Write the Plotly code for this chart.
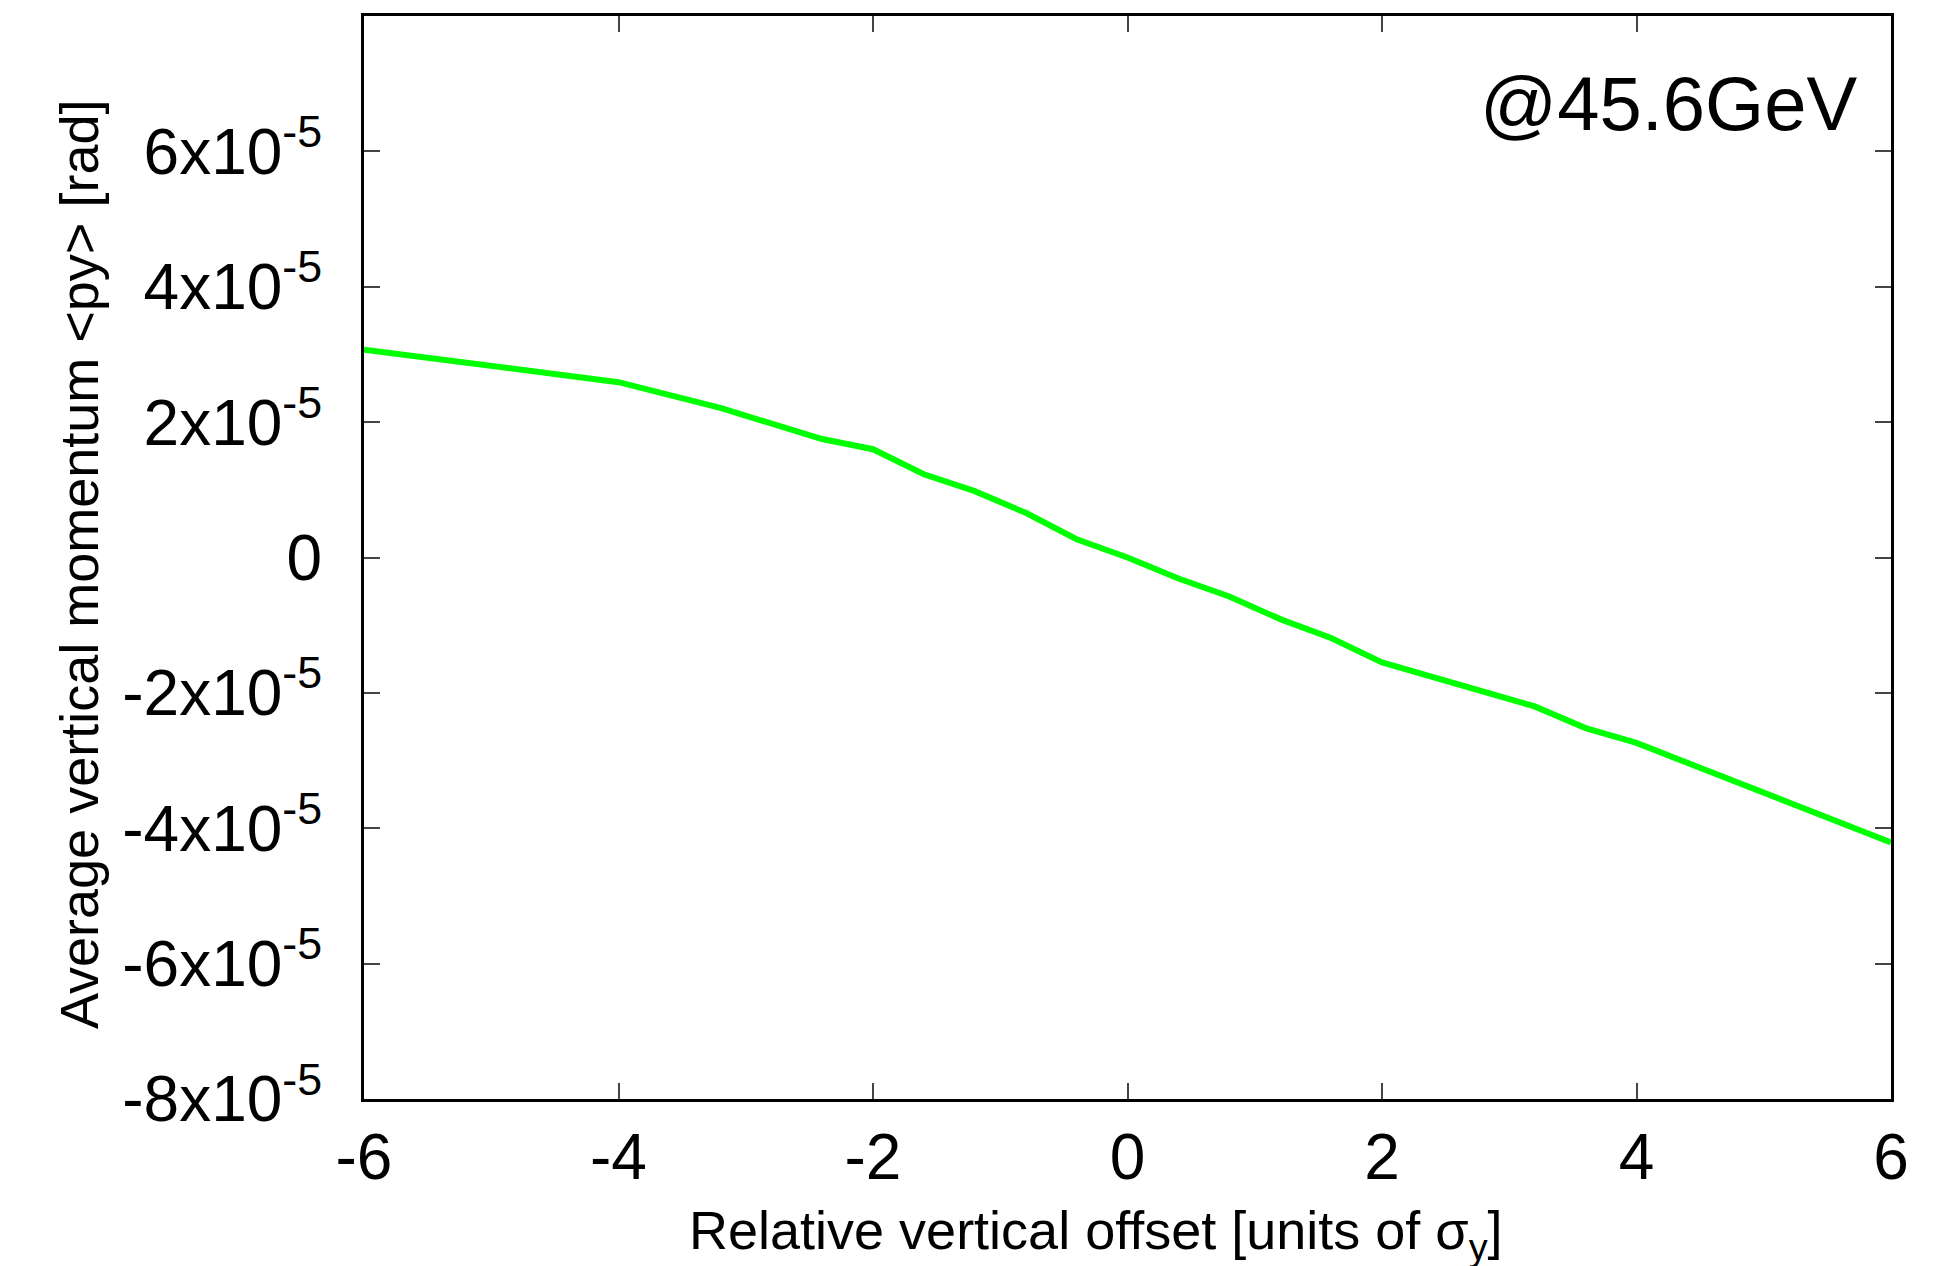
import plotly.graph_objects as go

# Data
offset_sigma = [-6, -4, -3.2, -2.4, -2, -1.6, -1.2, -0.8, -0.4, 0, 0.4, 0.8, 1.2, 1.6, 2, 2.4, 2.8, 3.2, 3.6, 4, 6]
py_e5 = [3.07, 2.59, 2.21, 1.75, 1.60, 1.23, 0.98, 0.66, 0.27, 0.0, -0.31, -0.575, -0.91, -1.19, -1.55, -1.77, -1.99, -2.20, -2.52, -2.74, -4.21]
py_rad = [v * 1e-5 for v in py_e5]

x_ticks = [-6, -4, -2, 0, 2, 4, 6]
y_tick_vals = [-8e-5, -6e-5, -4e-5, -2e-5, 0, 2e-5, 4e-5, 6e-5]
y_tick_text = ["-8x10<sup>-5</sup>", "-6x10<sup>-5</sup>", "-4x10<sup>-5</sup>", "-2x10<sup>-5</sup>",
               "0", "2x10<sup>-5</sup>", "4x10<sup>-5</sup>", "6x10<sup>-5</sup>"]

FONT = "Liberation Sans, Arial, Helvetica, sans-serif"

fig = go.Figure()
fig.add_trace(go.Scatter(x=offset_sigma, y=py_rad, mode="lines",
                         line=dict(color="#00ff00", width=6), showlegend=False))

W, H = 1942, 1266
L, R, T, B = 364, 51, 16, 167

fig.update_layout(
    width=W, height=H,
    margin=dict(l=L, r=R, t=T, b=B),
    paper_bgcolor="white", plot_bgcolor="white",
    font=dict(family=FONT, color="black"),
    xaxis=dict(range=[-6, 6], tickvals=x_ticks, ticktext=[str(v) for v in x_ticks],
               showgrid=False, zeroline=False, showline=True, linecolor="black", linewidth=3,
               mirror="allticks", ticks="inside", ticklen=16, tickwidth=2, tickcolor="#444",
               tickfont=dict(size=64, family=FONT, color="black"), ticklabelstandoff=0),
    yaxis=dict(range=[-8e-5, 8e-5], tickvals=y_tick_vals, ticktext=y_tick_text,
               showgrid=False, zeroline=False, showline=True, linecolor="black", linewidth=3,
               mirror="allticks", ticks="inside", ticklen=16, tickwidth=2, tickcolor="#444",
               tickfont=dict(size=64, family=FONT, color="black"), ticklabelstandoff=26),
)

pw = W - L - R
ph = H - T - B

def px_x(p):
    return (p - L) / pw

def px_y(p):
    return (H - B - p) / ph

fig.add_annotation(text="Relative vertical offset [units of σ<sub>y</sub>]",
                   xref="paper", yref="paper", x=px_x(1096), y=px_y(1234),
                   xanchor="center", yanchor="middle", showarrow=False,
                   font=dict(size=54, family=FONT, color="black"))
fig.add_annotation(text="Average vertical momentum &lt;py&gt; [rad]",
                   xref="paper", yref="paper", x=px_x(79), y=px_y(565),
                   xanchor="center", yanchor="middle", textangle=-90, showarrow=False,
                   font=dict(size=54, family=FONT, color="black"))
fig.add_annotation(text="@45.6GeV",
                   xref="paper", yref="paper", x=px_x(1859), y=px_y(103),
                   xanchor="right", yanchor="middle", showarrow=False,
                   font=dict(size=76, family=FONT, color="black"))

fig.write_html("out.html")
